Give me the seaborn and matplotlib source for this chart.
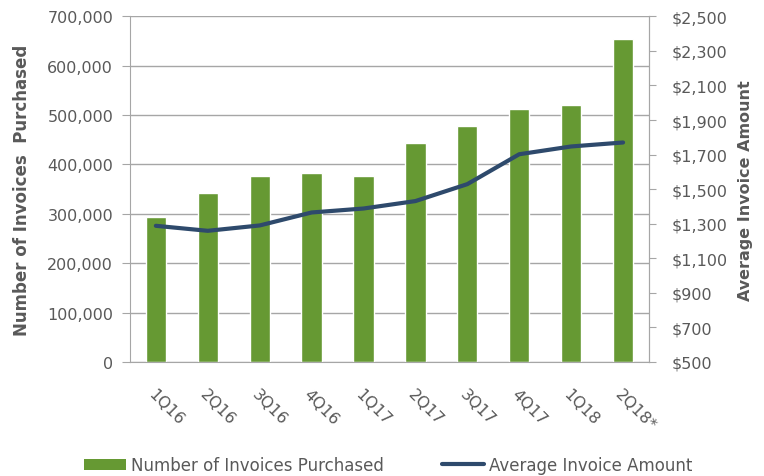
import numpy as np
import pandas as pd
import matplotlib.pyplot as plt
import matplotlib.ticker as mticker
import seaborn as sns
from matplotlib.patches import Patch
from matplotlib.lines import Line2D

# Data
quarters = ['1Q16', '2Q16', '3Q16', '4Q16', '1Q17', '2Q17', '3Q17', '4Q17', '1Q18', '2Q18*']
invoices = [294000, 343000, 376000, 382000, 376000, 444000, 477000, 512000, 521000, 655000]
avg_amount = [1288, 1259, 1290, 1365, 1388, 1431, 1529, 1702, 1747, 1770]

df = pd.DataFrame({'quarter': quarters, 'invoices': invoices, 'avg': avg_amount})
df['pos'] = np.arange(len(df))

sns.set_style('white')
plt.rcParams['font.family'] = ['DejaVu Sans']

bar_color = '#669933'
line_color = '#2e4a6c'
grey = '#595959'
axis_grey = '#a6a6a6'
tick_size = 11.5

fig = plt.figure(figsize=(7.64, 4.77), dpi=100)
ax = fig.add_axes([0.170, 0.239, 0.6795, 0.7247])

sns.barplot(data=df, x='pos', y='invoices', color=bar_color, saturation=1,
            width=0.39, ax=ax, native_scale=True)
ax.set_xlim(-0.5, len(df) - 0.5)
ax.set_ylim(0, 700000)
ax.yaxis.set_major_locator(mticker.MultipleLocator(100000))
ax.yaxis.set_major_formatter(mticker.FuncFormatter(lambda v, p: f'{v:,.0f}'))
ax.grid(axis='y', color=axis_grey, linewidth=1)
ax.set_axisbelow(True)

ax.set_xticks(df['pos'])
ax.set_xticklabels(df['quarter'], rotation=-45, ha='left', va='top',
                   rotation_mode='anchor', fontsize=tick_size, color=grey)
ax.set_xticks(np.arange(-0.5, len(df)), minor=True)
ax.tick_params(axis='x', which='major', length=0, pad=17)
ax.tick_params(axis='x', which='minor', length=6, color=axis_grey, direction='out')
ax.tick_params(axis='y', length=6, color=axis_grey, direction='out', pad=6,
               labelsize=tick_size, labelcolor=grey, left=True)
ax.set_xlabel('')
ax.set_ylabel('Number of Invoices  Purchased', fontsize=12, fontweight='bold',
              color=grey, labelpad=12)

for s in ['left', 'bottom', 'right']:
    ax.spines[s].set_color(axis_grey)
ax.spines['top'].set_visible(False)

ax2 = ax.twinx()
sns.lineplot(data=df, x='pos', y='avg', color=line_color, linewidth=3, ax=ax2)
ax2.set_ylim(500, 2500)
ax2.yaxis.set_major_locator(mticker.FixedLocator(np.arange(500, 2501, 200)))
ax2.yaxis.set_major_formatter(mticker.FuncFormatter(lambda v, p: f'${v:,.0f}'))
ax2.tick_params(axis='y', length=5, color=axis_grey, direction='out', pad=11,
                labelsize=tick_size, labelcolor=grey, right=True)
ax2.set_ylabel('Average Invoice Amount', fontsize=11.5, fontweight='bold',
               color=grey, labelpad=8)
ax2.set_xlabel('')
for s in ax2.spines.values():
    s.set_visible(False)
ax2.spines['right'].set_visible(True)
ax2.spines['right'].set_color(axis_grey)

handles = [Patch(facecolor=bar_color, edgecolor='none'),
           Line2D([0], [0], color=line_color, linewidth=3)]
fig.legend(handles, ['Number of Invoices Purchased', 'Average Invoice Amount'],
           loc='center', bbox_to_anchor=(0.508, 0.023), ncol=2, frameon=False,
           fontsize=12, handlelength=2.5, handleheight=0.65, handletextpad=0.3,
           columnspacing=3.5, labelcolor=grey)

fig.savefig('out.png', dpi=100)
